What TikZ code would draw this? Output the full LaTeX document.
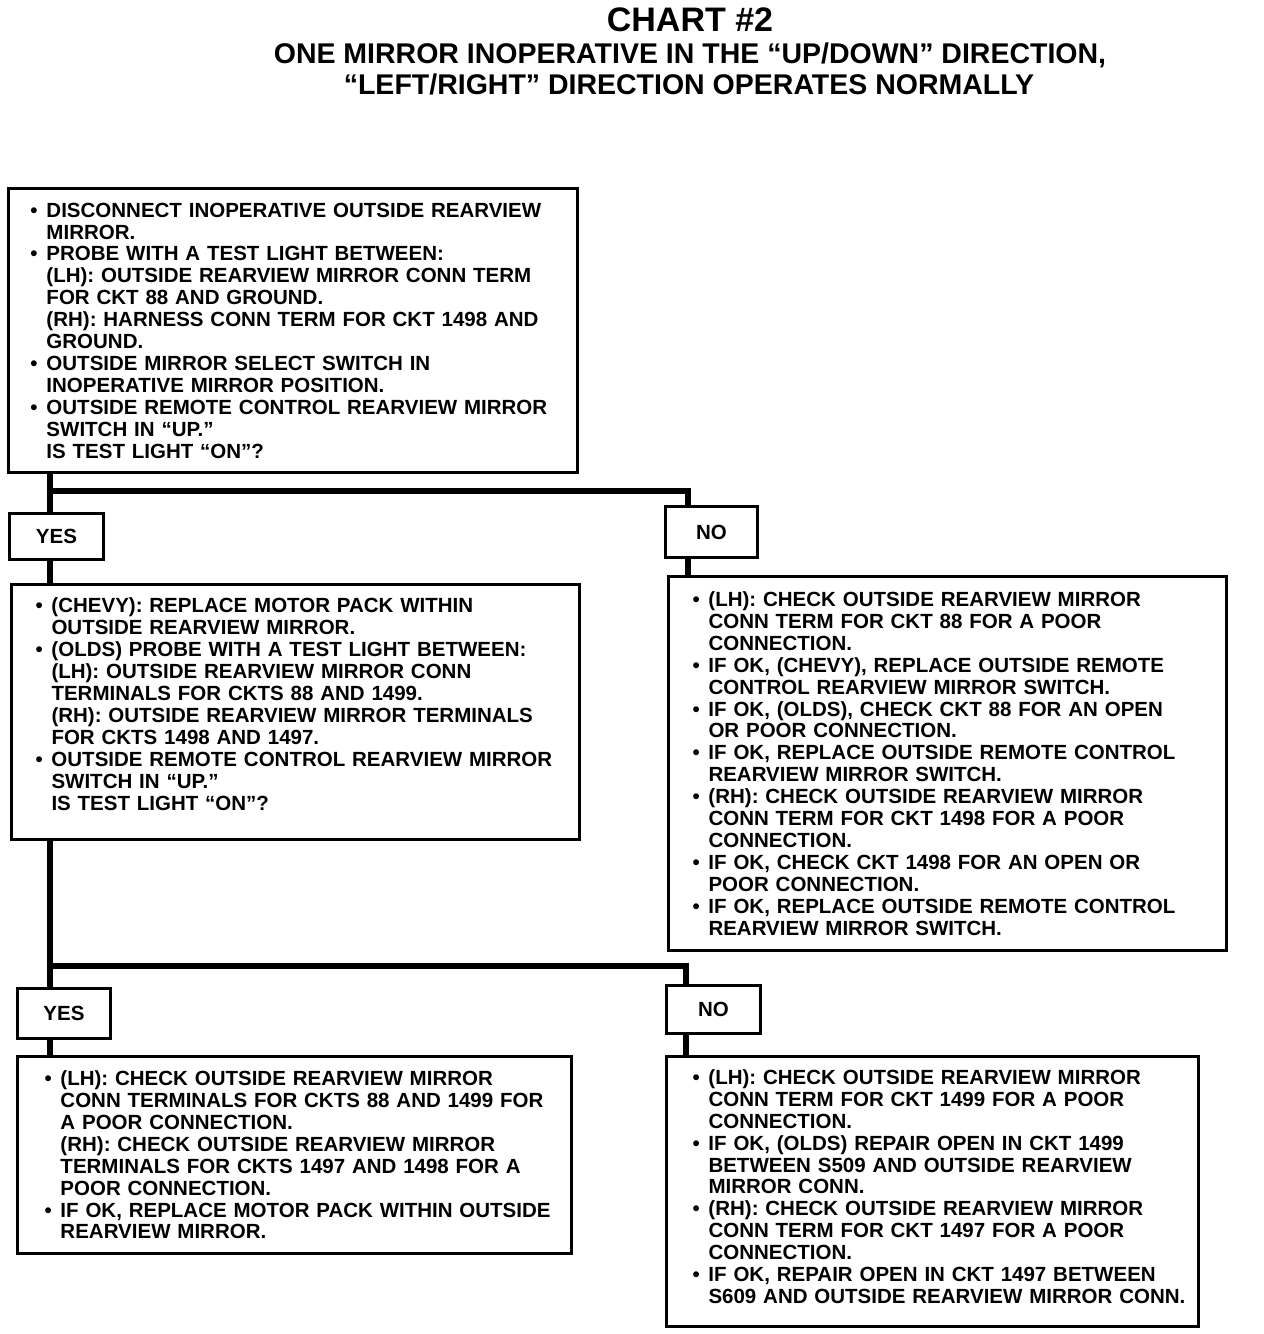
\documentclass[tikz,border=0pt]{standalone}
\usepackage{fontspec}
\setmainfont{Liberation Sans}
\newcommand{\bitem}[1]{\mbox{\makebox[16pt][l]{•}#1}}
\newcommand{\bcont}[1]{\mbox{\hspace*{16pt}#1}}
\begin{document}
\begin{tikzpicture}[x=1pt,y=-1pt,
  chartbox/.style={draw,line width=3pt,anchor=north west,align=left,inner ysep=0pt,
    font=\bfseries\fontsize{20.5}{21.9}\selectfont},
  answer/.style={draw,line width=3pt,anchor=north west,inner sep=0pt,
    font=\bfseries\fontsize{20.5}{21.9}\selectfont},
  link/.style={line width=5.5pt}]
  \useasboundingbox (0,0) rectangle (1264,1334);
  \node[font=\bfseries\fontsize{34}{34}\selectfont] (title) at (690,20) {CHART \#2};
  \node[font=\bfseries\fontsize{28.5}{30}\selectfont] (subA) at (690,55)
    {ONE MIRROR INOPERATIVE IN THE “UP/DOWN” DIRECTION,};
  \node[font=\bfseries\fontsize{28.5}{30}\selectfont] (subB) at (689,84)
    {“LEFT/RIGHT” DIRECTION OPERATES NORMALLY};

  \node[chartbox,inner xsep=22pt,text width=525pt,minimum height=284pt] (probe1) at (7,187) {%
    \bitem{DISCONNECT INOPERATIVE OUTSIDE REARVIEW}\\
    \bcont{MIRROR.}\\
    \bitem{PROBE WITH A TEST LIGHT BETWEEN:}\\
    \bcont{(LH): OUTSIDE REARVIEW MIRROR CONN TERM}\\
    \bcont{FOR CKT 88 AND GROUND.}\\
    \bcont{(RH): HARNESS CONN TERM FOR CKT 1498 AND}\\
    \bcont{GROUND.}\\
    \bitem{OUTSIDE MIRROR SELECT SWITCH IN}\\
    \bcont{INOPERATIVE MIRROR POSITION.}\\
    \bitem{OUTSIDE REMOTE CONTROL REARVIEW MIRROR}\\
    \bcont{SWITCH IN “UP.”}\\
    \bcont{IS TEST LIGHT “ON”?}};

  \node[answer,minimum width=94pt,minimum height=46pt] (yes1) at (8,512) {YES};
  \node[answer,minimum width=92pt,minimum height=51pt] (no1) at (664,505) {NO};

  \node[chartbox,inner xsep=24pt,text width=520pt,minimum height=255pt] (probe2) at (10,583) {%
    \bitem{(CHEVY): REPLACE MOTOR PACK WITHIN}\\
    \bcont{OUTSIDE REARVIEW MIRROR.}\\
    \bitem{(OLDS) PROBE WITH A TEST LIGHT BETWEEN:}\\
    \bcont{(LH): OUTSIDE REARVIEW MIRROR CONN}\\
    \bcont{TERMINALS FOR CKTS 88 AND 1499.}\\
    \bcont{(RH): OUTSIDE REARVIEW MIRROR TERMINALS}\\
    \bcont{FOR CKTS 1498 AND 1497.}\\
    \bitem{OUTSIDE REMOTE CONTROL REARVIEW MIRROR}\\
    \bcont{SWITCH IN “UP.”}\\
    \bcont{IS TEST LIGHT “ON”?}\\[-6pt]
    \mbox{}};

  \node[chartbox,inner xsep=24pt,text width=510pt,minimum height=374pt] (fixA) at (667,575) {%
    \bitem{(LH): CHECK OUTSIDE REARVIEW MIRROR}\\
    \bcont{CONN TERM FOR CKT 88 FOR A POOR}\\
    \bcont{CONNECTION.}\\
    \bitem{IF OK, (CHEVY), REPLACE OUTSIDE REMOTE}\\
    \bcont{CONTROL REARVIEW MIRROR SWITCH.}\\
    \bitem{IF OK, (OLDS), CHECK CKT 88 FOR AN OPEN}\\
    \bcont{OR POOR CONNECTION.}\\
    \bitem{IF OK, REPLACE OUTSIDE REMOTE CONTROL}\\
    \bcont{REARVIEW MIRROR SWITCH.}\\
    \bitem{(RH): CHECK OUTSIDE REARVIEW MIRROR}\\
    \bcont{CONN TERM FOR CKT 1498 FOR A POOR}\\
    \bcont{CONNECTION.}\\
    \bitem{IF OK, CHECK CKT 1498 FOR AN OPEN OR}\\
    \bcont{POOR CONNECTION.}\\
    \bitem{IF OK, REPLACE OUTSIDE REMOTE CONTROL}\\
    \bcont{REARVIEW MIRROR SWITCH.}};

  \node[answer,minimum width=93pt,minimum height=50pt] (yes2) at (16,987) {YES};
  \node[answer,minimum width=94pt,minimum height=48pt] (no2) at (665,984) {NO};

  \node[chartbox,inner xsep=27pt,text width=500pt,minimum height=197pt] (fixB) at (16,1055) {%
    \bitem{(LH): CHECK OUTSIDE REARVIEW MIRROR}\\
    \bcont{CONN TERMINALS FOR CKTS 88 AND 1499 FOR}\\
    \bcont{A POOR CONNECTION.}\\
    \bcont{(RH): CHECK OUTSIDE REARVIEW MIRROR}\\
    \bcont{TERMINALS FOR CKTS 1497 AND 1498 FOR A}\\
    \bcont{POOR CONNECTION.}\\
    \bitem{IF OK, REPLACE MOTOR PACK WITHIN OUTSIDE}\\
    \bcont{REARVIEW MIRROR.}};

  \node[chartbox,inner xsep=26pt,text width=480pt,minimum height=270pt] (fixC) at (665,1055) {%
    \bitem{(LH): CHECK OUTSIDE REARVIEW MIRROR}\\
    \bcont{CONN TERM FOR CKT 1499 FOR A POOR}\\
    \bcont{CONNECTION.}\\
    \bitem{IF OK, (OLDS) REPAIR OPEN IN CKT 1499}\\
    \bcont{BETWEEN S509 AND OUTSIDE REARVIEW}\\
    \bcont{MIRROR CONN.}\\
    \bitem{(RH): CHECK OUTSIDE REARVIEW MIRROR}\\
    \bcont{CONN TERM FOR CKT 1497 FOR A POOR}\\
    \bcont{CONNECTION.}\\
    \bitem{IF OK, REPAIR OPEN IN CKT 1497 BETWEEN}\\
    \bcont{S609 AND OUTSIDE REARVIEW MIRROR CONN.}\\[-12pt]
    \mbox{}};

  \coordinate (fork1) at (50,491);
  \coordinate (drop1) at (688,491);
  \coordinate (fork2) at (50,966);
  \coordinate (drop2) at (686,966);
  \draw[link] (probe1.south -| fork1) -- (yes1.north -| fork1);
  \draw[link] (fork1) -- (drop1) -- (no1.north -| drop1);
  \draw[link] (yes1.south -| fork1) -- (probe2.north -| fork1);
  \draw[link] (no1.south -| drop1) -- (fixA.north -| drop1);
  \draw[link] (probe2.south -| fork2) -- (yes2.north -| fork2);
  \draw[link] (fork2) -- (drop2) -- (no2.north -| drop2);
  \draw[link] (yes2.south -| fork2) -- (fixB.north -| fork2);
  \draw[link] (no2.south -| drop2) -- (fixC.north -| drop2);
\end{tikzpicture}
\end{document}
